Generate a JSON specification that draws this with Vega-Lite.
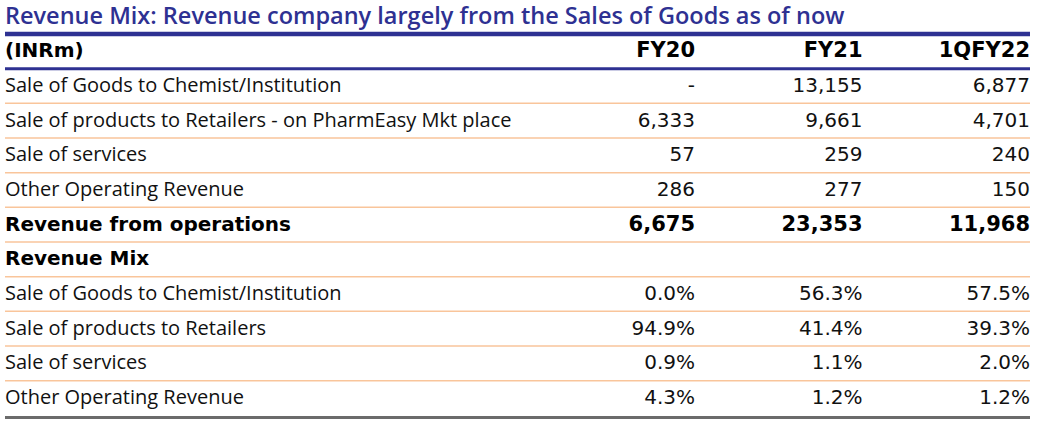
{
  "$schema": "https://vega.github.io/schema/vega-lite/v6.json",
  "width": 1042,
  "height": 423,
  "autosize": {"type": "fit", "contains": "padding"},
  "padding": 0,
  "background": "white",
  "config": {"view": {"stroke": null}},
  "datasets": {
    "title": [{"row": -2, "text": "Revenue Mix: Revenue company largely from the Sales of Goods as of now"}],
    "lines": [
      {"row": -1.5, "kind": "title"},
      {"row": -0.5, "kind": "header"},
      {"row": 0.5, "kind": "row"},
      {"row": 1.5, "kind": "row"},
      {"row": 2.5, "kind": "row"},
      {"row": 3.5, "kind": "row"},
      {"row": 4.5, "kind": "row"},
      {"row": 5.5, "kind": "row"},
      {"row": 6.5, "kind": "row"},
      {"row": 7.5, "kind": "row"},
      {"row": 8.5, "kind": "row"},
      {"row": 9.56, "kind": "end"}
    ],
    "labels": [
      {"row": -1, "label": "(INRm)", "kind": "header"},
      {"row": 0, "label": "Sale of Goods to Chemist/Institution", "kind": "item"},
      {"row": 1, "label": "Sale of products to Retailers - on PharmEasy Mkt place", "kind": "item"},
      {"row": 2, "label": "Sale of services", "kind": "item"},
      {"row": 3, "label": "Other Operating Revenue", "kind": "item"},
      {"row": 4, "label": "Revenue from operations", "kind": "total"},
      {"row": 5, "label": "Revenue Mix", "kind": "total"},
      {"row": 6, "label": "Sale of Goods to Chemist/Institution", "kind": "item"},
      {"row": 7, "label": "Sale of products to Retailers", "kind": "item"},
      {"row": 8, "label": "Sale of services", "kind": "item"},
      {"row": 9, "label": "Other Operating Revenue", "kind": "item"}
    ],
    "periods": [
      {"period": "FY20", "col": 1, "row": -1},
      {"period": "FY21", "col": 2, "row": -1},
      {"period": "1QFY22", "col": 3, "row": -1}
    ],
    "cells": [
      {"row": 0, "period": "FY20", "value": 0, "unit": "amt"},
      {"row": 0, "period": "FY21", "value": 13155, "unit": "amt"},
      {"row": 0, "period": "1QFY22", "value": 6877, "unit": "amt"},
      {"row": 1, "period": "FY20", "value": 6333, "unit": "amt"},
      {"row": 1, "period": "FY21", "value": 9661, "unit": "amt"},
      {"row": 1, "period": "1QFY22", "value": 4701, "unit": "amt"},
      {"row": 2, "period": "FY20", "value": 57, "unit": "amt"},
      {"row": 2, "period": "FY21", "value": 259, "unit": "amt"},
      {"row": 2, "period": "1QFY22", "value": 240, "unit": "amt"},
      {"row": 3, "period": "FY20", "value": 286, "unit": "amt"},
      {"row": 3, "period": "FY21", "value": 277, "unit": "amt"},
      {"row": 3, "period": "1QFY22", "value": 150, "unit": "amt"},
      {"row": 4, "period": "FY20", "value": 6675, "unit": "total"},
      {"row": 4, "period": "FY21", "value": 23353, "unit": "total"},
      {"row": 4, "period": "1QFY22", "value": 11968, "unit": "total"},
      {"row": 6, "period": "FY20", "value": 0.0, "unit": "pct"},
      {"row": 6, "period": "FY21", "value": 0.563, "unit": "pct"},
      {"row": 6, "period": "1QFY22", "value": 0.575, "unit": "pct"},
      {"row": 7, "period": "FY20", "value": 0.949, "unit": "pct"},
      {"row": 7, "period": "FY21", "value": 0.414, "unit": "pct"},
      {"row": 7, "period": "1QFY22", "value": 0.393, "unit": "pct"},
      {"row": 8, "period": "FY20", "value": 0.009, "unit": "pct"},
      {"row": 8, "period": "FY21", "value": 0.011, "unit": "pct"},
      {"row": 8, "period": "1QFY22", "value": 0.02, "unit": "pct"},
      {"row": 9, "period": "FY20", "value": 0.043, "unit": "pct"},
      {"row": 9, "period": "FY21", "value": 0.012, "unit": "pct"},
      {"row": 9, "period": "1QFY22", "value": 0.012, "unit": "pct"}
    ]
  },
  "layer": [
    {
      "data": {"name": "lines"},
      "transform": [{"filter": "datum.kind === 'title'"}],
      "mark": {"type": "rule", "color": "#2E3192", "strokeWidth": 4.5},
      "encoding": {
        "x": {"datum": 0, "type": "quantitative", "scale": {"domain": [0, 1, 3], "range": [5, 695, 1030]}, "axis": null},
        "x2": {"datum": 3},
        "y": {"field": "row", "type": "quantitative", "scale": {"domain": [-2.48, 9.72], "reverse": true, "nice": false, "zero": false}, "axis": null}
      }
    },
    {
      "data": {"name": "lines"},
      "transform": [{"filter": "datum.kind === 'header'"}],
      "mark": {"type": "rule", "color": "#2E3192", "strokeWidth": 3},
      "encoding": {
        "x": {"datum": 0, "type": "quantitative"},
        "x2": {"datum": 3},
        "y": {"field": "row", "type": "quantitative"}
      }
    },
    {
      "data": {"name": "lines"},
      "transform": [{"filter": "datum.kind === 'row'"}],
      "mark": {"type": "rule", "color": "#F9C59B", "strokeWidth": 1.5},
      "encoding": {
        "x": {"datum": 0, "type": "quantitative"},
        "x2": {"datum": 3},
        "y": {"field": "row", "type": "quantitative"}
      }
    },
    {
      "data": {"name": "lines"},
      "transform": [{"filter": "datum.kind === 'end'"}],
      "mark": {"type": "rule", "color": "#6B6B6B", "strokeWidth": 3},
      "encoding": {
        "x": {"datum": 0, "type": "quantitative"},
        "x2": {"datum": 3},
        "y": {"field": "row", "type": "quantitative"}
      }
    },
    {
      "data": {"name": "title"},
      "mark": {"type": "text", "align": "left", "baseline": "middle", "font": "Open Sans", "fontSize": 23.5, "fontWeight": 600, "color": "#2E3192"},
      "encoding": {
        "x": {"datum": 0, "type": "quantitative"},
        "y": {"field": "row", "type": "quantitative"},
        "text": {"field": "text"}
      }
    },
    {
      "data": {"name": "labels"},
      "transform": [{"filter": "datum.kind === 'item'"}],
      "mark": {"type": "text", "align": "left", "baseline": "middle", "font": "Open Sans", "fontSize": 20, "color": "#111111"},
      "encoding": {
        "x": {"datum": 0, "type": "quantitative"},
        "y": {"field": "row", "type": "quantitative"},
        "text": {"field": "label"}
      }
    },
    {
      "data": {"name": "labels"},
      "transform": [{"filter": "datum.kind !== 'item'"}],
      "mark": {"type": "text", "align": "left", "baseline": "middle", "font": "DejaVu Sans", "fontSize": 20, "fontWeight": "bold", "color": "#000000"},
      "encoding": {
        "x": {"datum": 0, "type": "quantitative"},
        "y": {"field": "row", "type": "quantitative"},
        "text": {"field": "label"}
      }
    },
    {
      "data": {"name": "periods"},
      "mark": {"type": "text", "align": "right", "baseline": "middle", "font": "DejaVu Sans", "fontSize": 21, "fontWeight": "bold", "color": "#000000"},
      "encoding": {
        "x": {"field": "col", "type": "quantitative"},
        "y": {"field": "row", "type": "quantitative"},
        "text": {"field": "period"}
      }
    },
    {
      "data": {"name": "cells"},
      "transform": [
        {"filter": "datum.unit === 'amt'"},
        {"lookup": "period", "from": {"data": {"name": "periods"}, "key": "period", "fields": ["col"]}}
      ],
      "mark": {"type": "text", "align": "right", "baseline": "middle", "font": "DejaVu Sans", "fontSize": 20, "color": "#111111"},
      "encoding": {
        "x": {"field": "col", "type": "quantitative"},
        "y": {"field": "row", "type": "quantitative"},
        "text": {"condition": {"test": "datum.value === 0", "value": "-"}, "field": "value", "type": "quantitative", "format": ",.0f"}
      }
    },
    {
      "data": {"name": "cells"},
      "transform": [
        {"filter": "datum.unit === 'total'"},
        {"lookup": "period", "from": {"data": {"name": "periods"}, "key": "period", "fields": ["col"]}}
      ],
      "mark": {"type": "text", "align": "right", "baseline": "middle", "font": "DejaVu Sans", "fontSize": 21, "fontWeight": "bold", "color": "#000000"},
      "encoding": {
        "x": {"field": "col", "type": "quantitative"},
        "y": {"field": "row", "type": "quantitative"},
        "text": {"field": "value", "type": "quantitative", "format": ",.0f"}
      }
    },
    {
      "data": {"name": "cells"},
      "transform": [
        {"filter": "datum.unit === 'pct'"},
        {"lookup": "period", "from": {"data": {"name": "periods"}, "key": "period", "fields": ["col"]}}
      ],
      "mark": {"type": "text", "align": "right", "baseline": "middle", "font": "DejaVu Sans", "fontSize": 20, "color": "#111111"},
      "encoding": {
        "x": {"field": "col", "type": "quantitative"},
        "y": {"field": "row", "type": "quantitative"},
        "text": {"field": "value", "type": "quantitative", "format": ".1%"}
      }
    }
  ]
}
